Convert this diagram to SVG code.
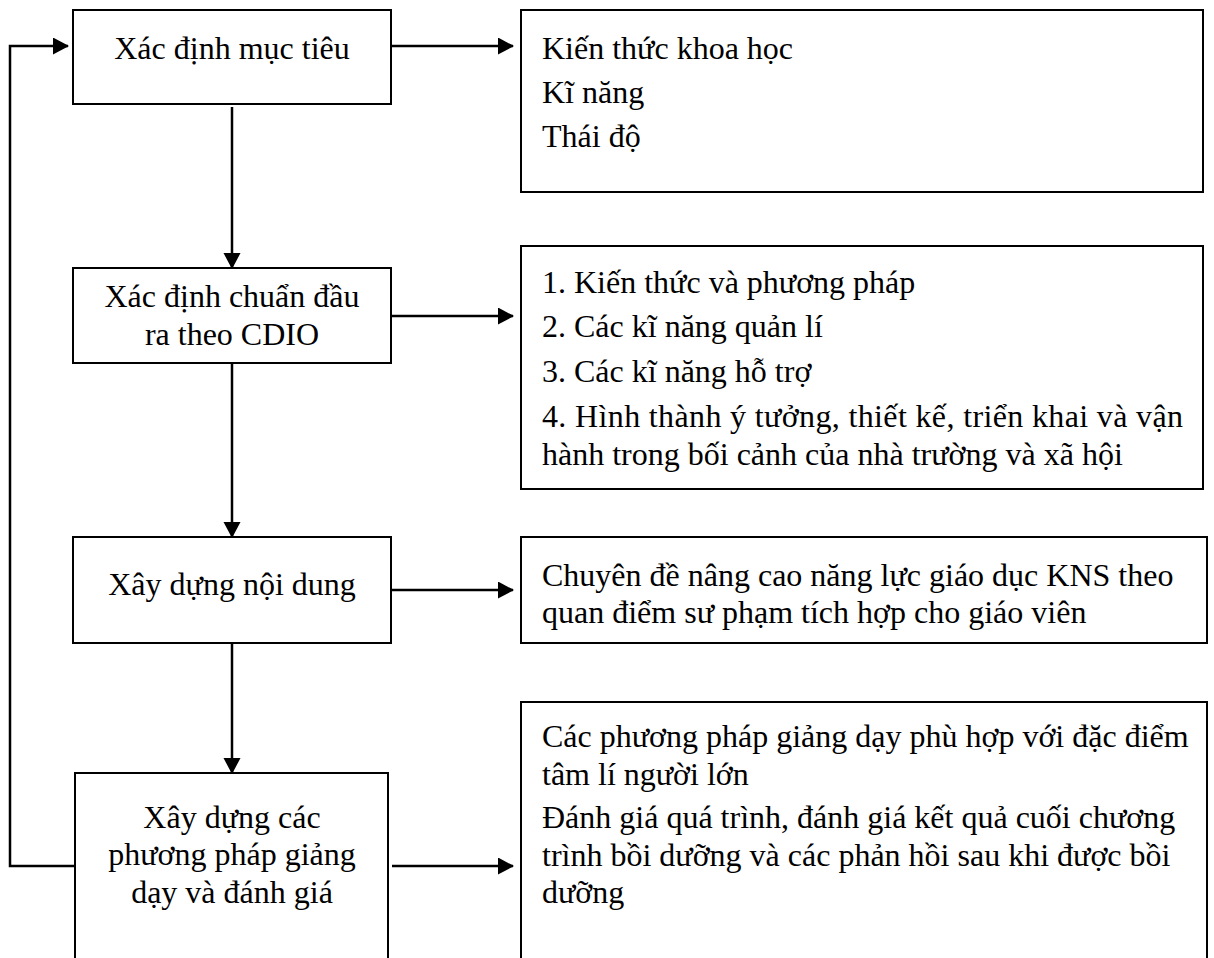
<svg xmlns="http://www.w3.org/2000/svg" width="1214" height="958" viewBox="0 0 1214 958">
<style>
.box{fill:#fff;stroke:#000;stroke-width:2}
.t{font-family:"Liberation Serif","Times New Roman",serif;font-size:32px;fill:#000}
.c{text-anchor:middle}
.ln{fill:none;stroke:#000;stroke-width:2.5}
</style>
<defs>
<marker id="ah" markerUnits="userSpaceOnUse" markerWidth="16" markerHeight="18" refX="15" refY="8.5" orient="auto">
<path d="M0,0 L16,8.5 L0,17 Z" fill="#000"/>
</marker>
</defs>
<rect width="1214" height="958" fill="#fff"/>
<g id="connectors">
<path class="ln" d="M232,107 V268" marker-end="url(#ah)"/>
<path class="ln" d="M232,363 V537" marker-end="url(#ah)"/>
<path class="ln" d="M232,643 V773" marker-end="url(#ah)"/>
<path class="ln" d="M392,46 H513" marker-end="url(#ah)"/>
<path class="ln" d="M392,316 H513" marker-end="url(#ah)"/>
<path class="ln" d="M392,590 H513" marker-end="url(#ah)"/>
<path class="ln" d="M392,866 H513" marker-end="url(#ah)"/>
<path class="ln" d="M75,866 H10 V46 H68" marker-end="url(#ah)"/>
</g>
<g id="n1">
<rect class="box" x="73" y="10" width="318" height="94"/>
<text class="t c" x="232" y="59">Xác định mục tiêu</text>
</g>
<g id="n2">
<rect class="box" x="521" y="10" width="682" height="182"/>
<text class="t" x="542" y="59">Kiến thức khoa học</text>
<text class="t" x="542" y="103">Kĩ năng</text>
<text class="t" x="542" y="147">Thái độ</text>
</g>
<g id="n3">
<rect class="box" x="73" y="268" width="318" height="95"/>
<text class="t c" x="232" y="307">Xác định chuẩn đầu</text>
<text class="t c" x="232" y="345">ra theo CDIO</text>
</g>
<g id="n4">
<rect class="box" x="521" y="246" width="682" height="243"/>
<text class="t" x="542" y="293">1. Kiến thức và phương pháp</text>
<text class="t" x="542" y="337">2. Các kĩ năng quản lí</text>
<text class="t" x="542" y="382">3. Các kĩ năng hỗ trợ</text>
<text class="t" x="542" y="427" textLength="641" lengthAdjust="spacing">4. Hình thành ý tưởng, thiết kế, triển khai và vận</text>
<text class="t" x="542" y="465">hành trong bối cảnh của nhà trường và xã hội</text>
</g>
<g id="n5">
<rect class="box" x="73" y="537" width="318" height="106"/>
<text class="t c" x="232" y="595">Xây dựng nội dung</text>
</g>
<g id="n6">
<rect class="box" x="521" y="537" width="686" height="106"/>
<text class="t" x="542" y="586">Chuyên đề nâng cao năng lực giáo dục KNS theo</text>
<text class="t" x="542" y="623">quan điểm sư phạm tích hợp cho giáo viên</text>
</g>
<g id="n7">
<rect class="box" x="75" y="773" width="313" height="200"/>
<text class="t c" x="232" y="828">Xây dựng các</text>
<text class="t c" x="232" y="865">phương pháp giảng</text>
<text class="t c" x="232" y="903">dạy và đánh giá</text>
</g>
<g id="n8">
<rect class="box" x="521" y="702" width="686" height="270"/>
<text class="t" x="542" y="747">Các phương pháp giảng dạy phù hợp với đặc điểm</text>
<text class="t" x="542" y="785">tâm lí người lớn</text>
<text class="t" x="542" y="828">Đánh giá quá trình, đánh giá kết quả cuối chương</text>
<text class="t" x="542" y="866">trình bồi dưỡng và các phản hồi sau khi được bồi</text>
<text class="t" x="542" y="903">dưỡng</text>
</g>
</svg>
